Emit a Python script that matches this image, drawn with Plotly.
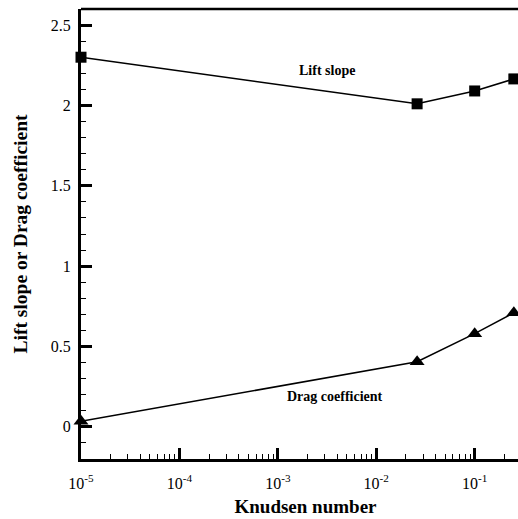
import plotly.graph_objects as go

knudsen = [1e-5, 0.026, 0.1, 0.25]
lift_slope = [2.30, 2.01, 2.09, 2.165]
drag_coef = [0.035, 0.405, 0.58, 0.71]

x_tickvals = [1e-5, 1e-4, 1e-3, 1e-2, 1e-1]
x_ticktext = ["10<sup>-5</sup>", "10<sup>-4</sup>", "10<sup>-3</sup>", "10<sup>-2</sup>", "10<sup>-1</sup>"]
x_minor = [k * 10.0 ** d for d in range(-5, 0) for k in range(2, 10) if k * 10.0 ** d < 0.37]

font = "Liberation Serif"

fig = go.Figure()
fig.add_trace(go.Scatter(
    x=knudsen, y=lift_slope, mode="lines+markers",
    line=dict(color="black", width=1.5),
    marker=dict(symbol="square", size=11, color="black"),
    cliponaxis=False, showlegend=False))
fig.add_trace(go.Scatter(
    x=knudsen, y=drag_coef, mode="lines+markers",
    line=dict(color="black", width=1.5),
    marker=dict(symbol="triangle-up", size=13, color="black"),
    cliponaxis=False, showlegend=False))

fig.add_annotation(x=-2.505, y=2.22, xref="x", yref="y", text="<b>Lift slope</b>",
                   showarrow=False, font=dict(family=font, size=14, color="black"))
fig.add_annotation(x=-2.417, y=0.188, xref="x", yref="y", text="<b>Drag coefficient</b>",
                   showarrow=False, font=dict(family=font, size=14, color="black"))

fig.add_shape(type="line", xref="paper", yref="paper", x0=0, x1=1, y0=1, y1=1,
              line=dict(color="black", width=2.5))

fig.update_layout(
    width=530, height=519,
    margin=dict(l=81, r=0, t=9, b=60),
    paper_bgcolor="white", plot_bgcolor="white",
    font=dict(family=font, size=16, color="black"),
    xaxis=dict(
        type="log", range=[-5, -0.438],
        tickmode="array", tickvals=x_tickvals, ticktext=x_ticktext,
        ticks="inside", ticklen=11, tickwidth=3, tickcolor="black",
        minor=dict(tickmode="array", tickvals=x_minor, ticks="inside", ticklen=5, tickwidth=1, tickcolor="black"),
        showline=True, linewidth=3, linecolor="black", showgrid=False, zeroline=False,
        ticklabelstandoff=8,
        title=dict(text="<b>Knudsen number</b>", font=dict(family=font, size=19), standoff=9),
        tickfont=dict(family=font, size=16),
    ),
    yaxis=dict(
        range=[-0.2, 2.6], tickmode="array", tickvals=[0, 0.5, 1, 1.5, 2, 2.5],
        ticktext=["0", "0.5", "1", "1.5", "2", "2.5"],
        ticks="inside", ticklen=11, tickwidth=3, tickcolor="black",
        minor=dict(dtick=0.1, tick0=0, ticks="inside", ticklen=5, tickwidth=1, tickcolor="black"),
        showline=True, linewidth=3, linecolor="black", showgrid=False, zeroline=False,
        ticklabelstandoff=4,
        title=dict(text="<b>Lift slope or Drag coefficient</b>", font=dict(family=font, size=19.5), standoff=18),
        tickfont=dict(family=font, size=16),
    ),
)

fig.write_html("out.html", config={"displayModeBar": False},
               post_script="document.body.style.margin='0';document.body.style.overflow='hidden';")
